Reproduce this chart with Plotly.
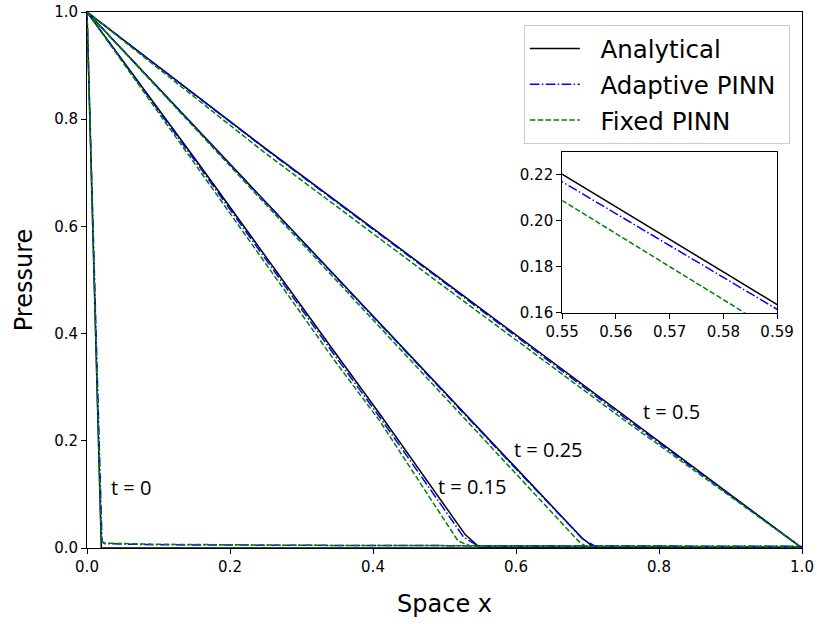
import plotly.graph_objects as go

# ---------------- data ----------------
times = ["t = 0", "t = 0.15", "t = 0.25", "t = 0.5"]

# Analytical solution
ana_t0_x = [0.0, 0.020, 1.0]
ana_t0_y = [1.0, 0.0, 0.0]
ana_t015_x = [0.0, 0.16, 0.345, 0.41, 0.529, 0.550, 1.0]
ana_t015_y = [1.0, 0.710, 0.368, 0.249, 0.025, 0.0, 0.0]
ana_t025_x = [0.0, 0.55, 0.59, 0.692, 0.710, 1.0]
ana_t025_y = [1.0, 0.220, 0.1634, 0.019, 0.0, 0.0]
ana_t05_x = [0.0, 0.25, 0.50, 0.75, 1.0]
ana_t05_y = [1.0, 0.745, 0.497, 0.249, 0.0]

# Adaptive PINN
ada_t0_x = [0.0, 0.021, 0.025, 0.10, 0.30, 0.60, 1.0]
ada_t0_y = [1.0, 0.012, 0.008, 0.006, 0.005, 0.004, 0.003]
ada_t015_x = [0.0, 0.16, 0.345, 0.41, 0.527, 0.548, 1.0]
ada_t015_y = [1.0, 0.706, 0.362, 0.243, 0.020, 0.003, 0.002]
ada_t025_x = [0.0, 0.55, 0.59, 0.694, 0.711, 1.0]
ada_t025_y = [1.0, 0.217, 0.1615, 0.016, 0.003, 0.002]
ada_t05_x = [0.0, 0.25, 0.50, 0.75, 1.0]
ada_t05_y = [1.0, 0.744, 0.495, 0.245, 0.0]

# Fixed PINN
fix_t0_x = [0.0, 0.020, 0.024, 0.10, 0.30, 0.60, 1.0]
fix_t0_y = [1.0, 0.012, 0.009, 0.007, 0.005, 0.004, 0.003]
fix_t015_x = [0.0, 0.16, 0.345, 0.41, 0.519, 0.538, 1.0]
fix_t015_y = [1.0, 0.700, 0.352, 0.236, 0.013, 0.003, 0.002]
fix_t025_x = [0.0, 0.55, 0.59, 0.688, 0.698, 1.0]
fix_t025_y = [1.0, 0.2088, 0.1513, 0.012, 0.003, 0.002]
fix_t05_x = [0.0, 0.25, 0.50, 0.75, 1.0]
fix_t05_y = [1.0, 0.736, 0.487, 0.240, 0.0]

# label positions of the time annotations (data coords)
label_x = [0.061, 0.539, 0.646, 0.817]
label_y = [0.113, 0.115, 0.183, 0.254]

main_ticks = [0.0, 0.2, 0.4, 0.6, 0.8, 1.0]
inset_xticks = [0.55, 0.56, 0.57, 0.58, 0.59]
inset_yticks = [0.16, 0.18, 0.20, 0.22]

# ---------------- figure ----------------
NB = "\u00a0\u00a0"
series = [
    ("Analytical", "black", "solid",
     [(ana_t0_x, ana_t0_y), (ana_t015_x, ana_t015_y), (ana_t025_x, ana_t025_y), (ana_t05_x, ana_t05_y)]),
    ("Adaptive PINN", "#0000ff", "9.6px,2.4px,1.5px,2.4px",
     [(ada_t0_x, ada_t0_y), (ada_t015_x, ada_t015_y), (ada_t025_x, ada_t025_y), (ada_t05_x, ada_t05_y)]),
    ("Fixed PINN", "#008000", "5.5px,2.4px",
     [(fix_t0_x, fix_t0_y), (fix_t015_x, fix_t015_y), (fix_t025_x, fix_t025_y), (fix_t05_x, fix_t05_y)]),
]

fig = go.Figure()
for k in range(4):
    for name, color, dash, curves in series:
        xs, ys = curves[k]
        fig.add_trace(go.Scatter(
            x=xs, y=ys, mode="lines", name=NB + name + "\u00a0", legendgroup=name,
            showlegend=(k == 0),
            line=dict(color=color, width=1.5, dash=dash),
            xaxis="x", yaxis="y"))

# inset: t = 0.25 curves
for name, color, dash, curves in series:
    xs, ys = curves[2]
    fig.add_trace(go.Scatter(
        x=xs, y=ys, mode="lines", name=name, legendgroup=name, showlegend=False,
        line=dict(color=color, width=1.5, dash=dash),
        xaxis="x2", yaxis="y2"))

font_main = "DejaVu Sans"
axis_common = dict(showline=True, linecolor="black", linewidth=1, mirror=True,
                   ticks="outside", ticklen=5, tickwidth=1, tickcolor="black",
                   showgrid=False, zeroline=False, automargin=False)

for txt, lx, ly in zip(times, label_x, label_y):
    fig.add_annotation(x=lx, y=ly, xref="x", yref="y", text=txt, showarrow=False,
                       font=dict(family="Open Sans", size=20, color="black"))

tf_main = dict(family=font_main, size=15, color="black")
tf_inset = dict(family=font_main, size=15, color="black")

fig.update_layout(
    width=817, height=624, autosize=False,
    margin=dict(l=86.5, r=15, t=12, b=75.5, autoexpand=False),
    paper_bgcolor="white", plot_bgcolor="white",
    xaxis=dict(range=[0, 1], tickvals=main_ticks, tickformat=".1f", tickfont=tf_main,
               title=dict(text="Space x", font=dict(family=font_main, size=24, color="black"), standoff=20),
               **axis_common),
    yaxis=dict(range=[0, 1], tickvals=main_ticks, tickformat=".1f", tickfont=tf_main,
               title=dict(text="Pressure", font=dict(family=font_main, size=24, color="black"), standoff=14),
               **axis_common),
    xaxis2=dict(domain=[0.6646, 0.9651], anchor="y2", range=[0.55, 0.59],
                tickvals=inset_xticks, tickformat=".2f", tickfont=tf_inset, **axis_common),
    yaxis2=dict(domain=[0.4390, 0.7390], anchor="x2", range=[0.16, 0.23],
                tickvals=inset_yticks, tickformat=".2f", tickfont=tf_inset, **axis_common),
    legend=dict(x=0.983, y=0.9758, xanchor="right", yanchor="top",
                bgcolor="rgba(255,255,255,0.8)", bordercolor="#cccccc", borderwidth=1,
                font=dict(family=font_main, size=24.5, color="black"),
                itemwidth=50, tracegroupgap=1),
    showlegend=True,
)

fig.write_html("out.html", config={"displayModeBar": False},
               post_script="document.body.style.margin='0';document.body.style.overflow='hidden';")
